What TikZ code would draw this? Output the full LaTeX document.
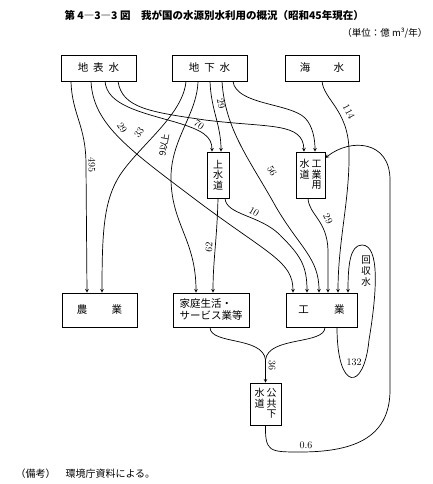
\documentclass[tikz,border=0pt]{standalone}
\usepackage{fontspec}
\newfontfamily\jp{Noto Sans CJK JP}
\usepackage{tikz}
\tikzstyle{block} = [rectangle, inner sep=0pt, text centered, draw=black, line width=0.6pt, font=\jp\fontsize{10.5}{12}\selectfont]
\tikzstyle{vblock} = [block, align=center, font=\jp\fontsize{10}{10.5}\selectfont]
\tikzstyle{flow} = [line width=0.7pt]
\tikzstyle{arrow} = [flow,->,>=stealth]
\tikzstyle{lbl} = [inner sep=0pt, font=\fontsize{10}{10}\selectfont]

\begin{document}
\begin{tikzpicture}[x=1pt, y=-1pt]
        \useasboundingbox (0,0) rectangle (433,484);
        % title and notes
        \node (title) [anchor=west, font=\jp\bfseries\fontsize{10.5}{13}\selectfont] at (61,15) {第 4―3―3 図\quad 我が国の水源別水利用の概況（昭和45年現在）};
        \node (unit) [anchor=east, font=\jp\fontsize{9.5}{12}\selectfont] at (431,33) {（単位：億 m³/年）};
        \node (note) [anchor=west, font=\jp\fontsize{10}{12}\selectfont] at (12,474) {（備考）\quad 環境庁資料による。};
        % sources
        \node (sw) [block, minimum width=75pt, minimum height=26pt] at (98.5,68) {地\hspace{5pt}表\hspace{5pt}水};
        \node (gw) [block, minimum width=75pt, minimum height=26pt] at (209.5,68) {地\hspace{5pt}下\hspace{5pt}水};
        \node (sea) [block, minimum width=74pt, minimum height=26pt] at (322,68) {海\hspace{2.2em}水};
        % water works
        \node (josui) [vblock, minimum width=22pt, minimum height=46pt] at (218,175) {上\\水\\道};
        \node (kogyosui) [vblock, minimum width=29pt, minimum height=46pt] at (310.5,175) {\renewcommand{\arraystretch}{0.85}\begin{tabular}{@{}c@{\hspace{2pt}}c@{}}水&工\\道&業\\&用\end{tabular}};
        % users
        \node (nogyo) [block, minimum width=75pt, minimum height=34pt] at (99.5,310) {農\hspace{2.3em}業};
        \node (katei) [block, align=left, minimum width=76pt, minimum height=34pt] at (211,310) {家庭生活・\\サービス業等};
        \node (kogyo) [block, minimum width=71pt, minimum height=34pt] at (321.5,310) {工\hspace{2.4em}業};
        \node (gesui) [vblock, minimum width=31pt, minimum height=42pt] at (265.5,404) {\renewcommand{\arraystretch}{0.85}\begin{tabular}{@{}c@{\hspace{2pt}}c@{}}水&公\\道&共\\&下\end{tabular}};

        % surface water
        \draw [arrow] ([xshift=-27.5pt]sw.south) .. controls (72,115) and (86,125) .. (86,165) -- ([xshift=-12.5pt]nogyo.north);
        \draw [arrow] ([xshift=-7.5pt]sw.south) .. controls (93,125) and (130,150) .. (200,203) .. controls (270,255) and (293,262) .. ([xshift=-28.5pt]kogyo.north);
        \draw [arrow] ([xshift=6.5pt]sw.south) .. controls (107,105) and (140,112) .. (175,122) .. controls (202,130) and (212,136) .. ([xshift=-6pt]josui.north);
        \draw [arrow] ([xshift=19.5pt]sw.south) .. controls (122,108) and (150,112) .. (205,120) .. controls (270,128) and (303,122) .. ([xshift=-6.5pt]kogyosui.north);
        % ground water
        \draw [arrow] ([xshift=-23.5pt]gw.south) .. controls (183,115) and (140,145) .. (120,175) .. controls (104,200) and (102,230) .. ([xshift=2.5pt]nogyo.north);
        \draw [arrow] ([xshift=-11.5pt]gw.south) .. controls (197,115) and (170,140) .. (171,180) .. controls (172,225) and (196,240) .. ([xshift=-15pt]katei.north);
        \draw [arrow] ([xshift=0.5pt]gw.south) .. controls (211,110) and (221,125) .. ([xshift=3pt]josui.north);
        \draw [arrow] ([xshift=12.5pt]gw.south) .. controls (225,130) and (250,160) .. (276,207) .. controls (300,248) and (319,258) .. ([xshift=-2.5pt]kogyo.north);
        \draw [arrow] ([xshift=23.5pt]gw.south) .. controls (236,105) and (290,103) .. (305,118) .. controls (313,126) and (315,140) .. ([xshift=4.5pt]kogyosui.north);
        % sea water
        \draw [arrow] (sea.south) .. controls (324,100) and (348,110) .. (349,150) .. controls (350,200) and (338,240) .. ([xshift=16.5pt]kogyo.north);
        % water works to users
        \draw [arrow] (josui.south) .. controls (217,240) and (213,260) .. ([xshift=2pt]katei.north);
        \draw [arrow] ([xshift=7pt]josui.south) .. controls (226,215) and (260,215) .. (280,235) .. controls (300,255) and (307,265) .. ([xshift=-14.5pt]kogyo.north);
        \draw [arrow] ([xshift=-2.5pt]kogyosui.south) .. controls (309,215) and (327,220) .. (328,250) -- ([xshift=6.5pt]kogyo.north);
        % recycled water
        \draw [arrow] ([xshift=15.5pt]kogyo.south) .. controls (337,392) and (364,392) .. (369,340) .. controls (377,292) and (380,245) .. (362,245) .. controls (350,245) and (348,265) .. ([xshift=26.5pt]kogyo.north);
        % sewage
        \coordinate (m36) at (265.5,360);
        \draw [flow] ([xshift=-1pt]katei.south) .. controls (210,345) and (263,336) .. (m36);
        \draw [flow] ([xshift=3.5pt]kogyo.south) .. controls (325,345) and (268,336) .. (m36);
        \draw [arrow] (m36) -- (gesui.north);
        \draw [arrow] (gesui.south) .. controls (265,452) and (270,452) .. (300,452) .. controls (350,452) and (390,440) .. (390,390) -- (390,180) .. controls (390,140) and (350,138) .. ([yshift=17pt]kogyosui.east);

        % amounts
        \node (l495) [lbl, rotate=-90] at (92,165) {495};
        \node (l29a) [lbl, rotate=-58] at (122,128) {29};
        \node (l33) [lbl, rotate=55] at (139,133) {33};
        \node (l70) [lbl, rotate=-35] at (199,125) {70};
        \node (l9) [lbl, rotate=80, font=\jp\fontsize{9}{9}\selectfont] at (164,145) {9以上};
        \node (l29b) [lbl, rotate=-78] at (221,104) {29};
        \node (l56) [lbl, rotate=-60] at (272,171) {56};
        \node (l114) [lbl, rotate=-62] at (349,112) {114};
        \node (l62) [lbl, rotate=85] at (209,247) {62};
        \node (l10) [lbl, rotate=-30] at (254,212) {10};
        \node (l29c) [lbl, rotate=-65] at (328,219) {29};
        \node (l36) [lbl, rotate=-90] at (272,365) {36};
        \node (l132) [lbl] at (354,362) {132};
        \node (l06) [lbl] at (306,445) {0.6};
        \node (kaishu) [lbl, align=center, font=\jp\fontsize{9.5}{11}\selectfont] at (366,271) {回\\収\\水};
    \end{tikzpicture}
\end{document}
